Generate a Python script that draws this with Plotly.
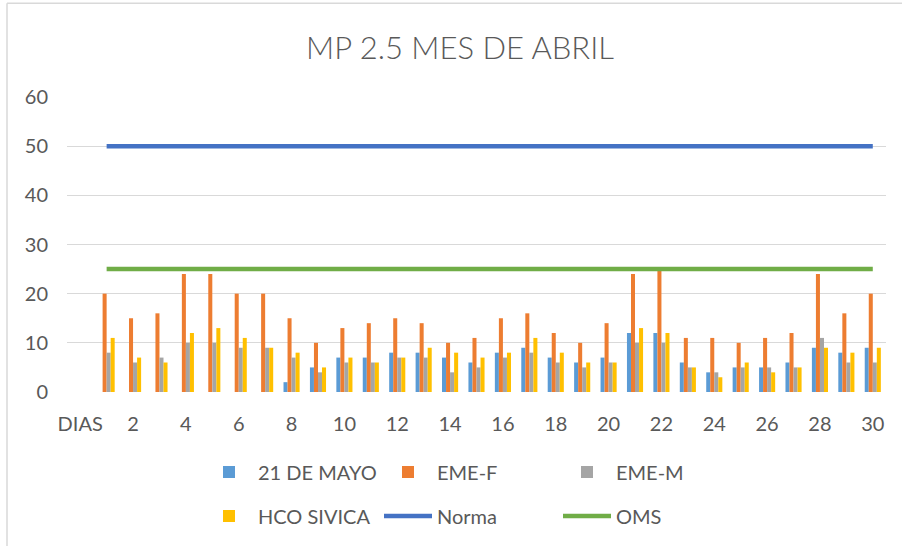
import plotly.graph_objects as go

categories = ["DIAS"] + [str(i) for i in range(1, 31)]
tick_labels = ["DIAS"] + [str(i) for i in range(2, 31, 2)]

may21 = [None, 0, 0, 0, 0, 0, 0, 0, 2, 5, 7, 7, 8, 8, 7, 6, 8, 9, 7, 6, 7, 12, 12, 6, 4, 5, 5, 6, 9, 8, 9]
eme_f = [None, 20, 15, 16, 24, 24, 20, 20, 15, 10, 13, 14, 15, 14, 10, 11, 15, 16, 12, 10, 14, 24, 25, 11, 11, 10, 11, 12, 24, 16, 20]
eme_m = [None, 8, 6, 7, 10, 10, 9, 9, 7, 4, 6, 6, 7, 7, 4, 5, 7, 8, 6, 5, 6, 10, 10, 5, 4, 5, 5, 5, 11, 6, 6]
hco_sivica = [None, 11, 7, 6, 12, 13, 11, 9, 8, 5, 7, 6, 7, 9, 8, 7, 8, 11, 8, 6, 6, 13, 12, 5, 3, 6, 4, 5, 9, 8, 9]
norma = [None] + [50] * 30
oms = [None] + [25] * 30

FONT = "Lato, 'Open Sans', sans-serif"
TXT = "#595959"

xpos = list(range(len(categories)))
tickvals = [0] + list(range(2, 31, 2))

fig = go.Figure()
bar_series = [("21 DE MAYO", may21, "#5B9BD5"), ("EME-F", eme_f, "#ED7D31"),
              ("EME-M", eme_m, "#A5A5A5"), ("HCO SIVICA", hco_sivica, "#FFC000")]
legends = ["legend", "legend", "legend", "legend2"]
for (name, vals, col), lg in zip(bar_series, legends):
    fig.add_trace(go.Bar(x=xpos, y=vals, name=name, marker_color=col,
                         marker_line_width=0, legend=lg))
fig.add_trace(go.Scatter(x=xpos, y=norma, name="Norma", mode="lines",
                         line=dict(color="#4472C4", width=4.5), legend="legend2"))
fig.add_trace(go.Scatter(x=xpos, y=oms, name="OMS", mode="lines",
                         line=dict(color="#70AD47", width=4.5), legend="legend2"))

L, R, T, B = 67, 886, 97, 393
W, H = 902, 546
pw, ph = R - L, B - T

def px(x):
    return (x - L) / pw

def py(y):
    return (B - y) / ph

leg_common = dict(orientation="h", xanchor="left", yanchor="middle",
                  font=dict(family=FONT, size=20, color=TXT), itemwidth=48,
                  entrywidth=116, entrywidthmode="pixels", bgcolor="rgba(0,0,0,0)",
                  traceorder="normal", itemclick=False)

fig.update_layout(
    width=W, height=H,
    margin=dict(l=L, r=W - R, t=T, b=H - B),
    paper_bgcolor="white", plot_bgcolor="white",
    barmode="group", bargap=0.39, bargroupgap=0,
    font=dict(family=FONT, size=20, color=TXT),
    title=dict(text="MP 2.5 MES DE ABRIL", x=460 / W, xanchor="center",
               y=1 - 48 / H, yanchor="middle", xref="container", yref="container",
               font=dict(family=FONT, size=31, color=TXT, weight=300)),
    xaxis=dict(range=[-0.5, 30.5], tickmode="array", tickvals=tickvals, ticktext=tick_labels,
               showgrid=False, zeroline=False, showline=False,
               ticks="outside", ticklen=14, tickcolor="rgba(0,0,0,0)",
               tickfont=dict(family=FONT, size=20, color=TXT)),
    yaxis=dict(range=[0, 60], dtick=10, showgrid=True, gridcolor="#D9D9D9", gridwidth=1,
               zeroline=False, showline=False, ticks="outside", ticklen=14,
               tickcolor="rgba(0,0,0,0)", tickfont=dict(family=FONT, size=20, color=TXT)),
    legend=dict(x=px(200), y=py(472), **leg_common),
    legend2=dict(x=px(200), y=py(516), **leg_common),
    shapes=[
        dict(type="line", xref="paper", yref="paper", x0=px(7), x1=px(W + 5), y0=py(3), y1=py(3),
             line=dict(color="#D9D9D9", width=1.5)),
        dict(type="line", xref="paper", yref="paper", x0=px(7), x1=px(7), y0=py(3), y1=py(H + 5),
             line=dict(color="#D9D9D9", width=1.5)),
    ],
)

fig.write_html("out.html", config={"displayModeBar": False},
               post_script="document.body.style.margin='0';")
